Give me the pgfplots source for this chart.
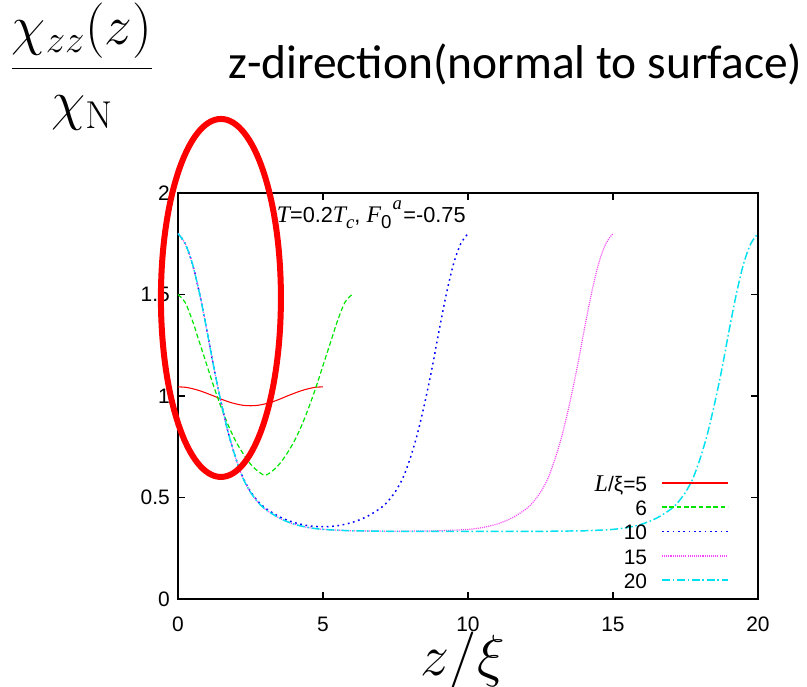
\RequirePackage{fix-cm}
\documentclass[border=0pt]{standalone}
\usepackage[no-math]{fontspec}
\usepackage{pgfplots}
\pgfplotsset{compat=1.18}
\setmainfont{Liberation Sans}
\newfontfamily\tms{Liberation Serif}
\newfontfamily\calibri{Carlito}
\newcommand{\lfont}{\fontsize{15.7}{18}\selectfont}
\definecolor{gpgreen}{RGB}{0,230,0}
\definecolor{gpblue}{RGB}{0,0,255}
\definecolor{gpmag}{RGB}{245,70,245}
\definecolor{gpcyan}{RGB}{0,225,240}
\newcommand{\itl}[1]{{\tms\itshape\fontsize{17.8}{20}\selectfont #1}}
\newcommand{\subl}[1]{\raisebox{-5pt}{\fontsize{14}{15}\selectfont #1}}
\newcommand{\supl}[1]{\raisebox{9.3pt}{\fontsize{14}{15}\selectfont #1}}
\begin{document}
\begin{tikzpicture}
\useasboundingbox (-133.5pt,-65.25pt) rectangle (471.75pt,449.25pt);
\begin{axis}[
  at={(0pt,0pt)}, anchor=south west,
  scale only axis, width=435pt, height=304.5pt,
  xmin=0, xmax=20, ymin=0, ymax=2,
  xtick={0,5,10,15,20}, ytick={0,0.5,1,1.5,2},
  tick align=inside, tick pos=both,
  major tick length=5pt,
  axis line style={line width=1.1pt},
  every tick/.style={line width=1.1pt, black},
  ticklabel style={font=\lfont},
  /pgf/number format/assume math mode=true,
  yticklabel style={inner sep=0pt, xshift=-6pt},
  xticklabel style={inner sep=0pt, yshift=-13pt, anchor=north},
  clip=false,
  legend plot pos=right,
  legend cell align=right,
  legend image code/.code={\draw[#1, line width=1.2pt] (0pt,2pt) -- (49.5pt,2pt);},
  legend style={draw=none, fill=none, at={(axis cs:19.0,0.605)}, anchor=north east,
    font=\lfont, inner sep=0pt, row sep=4.45pt,
    nodes={inner sep=0pt, text height=11.25pt, text depth=2.5pt},
    /tikz/every odd column/.append style={column sep=10.5pt}},
]
\addplot[red, line width=0.8pt, smooth] coordinates {
(0,1.045) (0.25,1.043) (0.5,1.036) (0.75,1.026) (1.0,1.013) (1.25,0.999) (1.5,0.984) (1.75,0.971) (2.0,0.961) (2.25,0.954) (2.5,0.952)
(2.75,0.954) (3.0,0.961) (3.25,0.971) (3.5,0.984) (3.75,0.999) (4.0,1.013) (4.25,1.026) (4.5,1.036) (4.75,1.043) (5.0,1.045)};
\addlegendentry{{\tms\itshape\fontsize{18}{20}\selectfont L}/ξ=5}
\addplot[gpgreen, line width=0.9pt, dash pattern=on 3.5pt off 2pt, smooth] coordinates {
(0,1.50) (0.25,1.46) (0.5,1.37) (0.75,1.26) (1.0,1.15) (1.25,1.04) (1.5,0.94) (1.75,0.85) (2.0,0.775) (2.25,0.715) (2.5,0.665) (2.75,0.63) (3.0,0.61)
(3.25,0.63) (3.5,0.665) (3.75,0.715) (4.0,0.775) (4.25,0.85) (4.5,0.94) (4.75,1.04) (5.0,1.15) (5.25,1.26) (5.5,1.37) (5.75,1.46) (6.0,1.50)};
\addlegendentry{6}
\addplot[gpblue, line width=1.1pt, dash pattern=on 1.3pt off 2.7pt, smooth] coordinates {
(0,1.80) (0.25,1.75) (0.5,1.65) (0.75,1.50) (1.0,1.32) (1.25,1.13) (1.5,0.96) (1.75,0.81) (2.0,0.69) (2.25,0.595) (2.5,0.53) (2.75,0.483) (3.0,0.449)
(3.5,0.405) (4.0,0.377) (4.5,0.361) (5.0,0.356) (5.5,0.361) (6.0,0.377) (6.5,0.405)
(7.0,0.449) (7.25,0.483) (7.5,0.53) (7.75,0.595) (8.0,0.69) (8.25,0.81) (8.5,0.96) (8.75,1.13) (9.0,1.32) (9.25,1.50) (9.5,1.65) (9.75,1.75) (10,1.80)};
\addlegendentry{10}
\addplot[gpmag, line width=0.9pt, dash pattern=on 0.8pt off 0.8pt, smooth] coordinates {
(0,1.80) (0.25,1.75) (0.5,1.65) (0.75,1.50) (1.0,1.32) (1.25,1.13) (1.5,0.96) (1.75,0.81) (2.0,0.69) (2.25,0.592) (2.5,0.526) (2.75,0.478) (3.0,0.443)
(3.5,0.398) (4.0,0.369) (4.5,0.352) (5.0,0.343) (5.5,0.339) (6.0,0.336) (6.5,0.335) (7.5,0.334) (8.5,0.335) (9.0,0.336) (9.5,0.339) (10,0.343) (10.5,0.352) (11,0.369) (11.5,0.398)
(12,0.443) (12.25,0.478) (12.5,0.526) (12.75,0.592) (13,0.69) (13.25,0.81) (13.5,0.96) (13.75,1.13) (14,1.32) (14.25,1.50) (14.5,1.65) (14.75,1.75) (15,1.80)};
\addlegendentry{15}
\addplot[gpcyan, line width=1.1pt, dash pattern=on 6pt off 2pt on 1.2pt off 2pt, smooth] coordinates {
(0,1.80) (0.25,1.75) (0.5,1.65) (0.75,1.50) (1.0,1.32) (1.25,1.13) (1.5,0.96) (1.75,0.81) (2.0,0.69) (2.25,0.592) (2.5,0.526) (2.75,0.478) (3.0,0.443)
(3.5,0.398) (4.0,0.369) (4.5,0.352) (5.0,0.343) (5.5,0.339) (6.0,0.336) (6.5,0.335) (7,0.334) (8,0.333) (10,0.333) (12,0.333) (13,0.334) (13.5,0.335) (14,0.336) (14.5,0.339) (15,0.343) (15.5,0.352) (16,0.369) (16.5,0.398)
(17,0.443) (17.25,0.478) (17.5,0.526) (17.75,0.592) (18,0.69) (18.25,0.81) (18.5,0.96) (18.75,1.13) (19,1.32) (19.25,1.50) (19.5,1.65) (19.75,1.75) (20,1.80)};
\addlegendentry{20}
\node[anchor=base west, inner sep=0pt, font=\fontsize{16.3}{18}\selectfont] at (axis cs:3.40,1.857)
  {\itl{T}=0.2\itl{T}\subl{\tms\itshape c}, \itl{F}\subl{0}\kern1pt\supl{\tms\itshape a}\kern1pt=-0.75};
\draw[red, line width=4.5pt] (axis cs:1.48,1.483) ellipse [x radius=45pt, y radius=134.25pt];
\end{axis}
\node[anchor=base, inner sep=0pt] at (213.4pt,-57pt) {\fontsize{43.5}{50}\selectfont $z/\xi$};
\node[anchor=base west, inner sep=0pt] at (-126pt,387.85pt) {\fontsize{41.6}{50}\selectfont $\displaystyle\frac{\chi_{zz}(z)}{\chi_{\mathrm{N}}}$};
\node[anchor=base west, inner sep=0pt] at (37.5pt,390pt) {\calibri\fontsize{35.6}{40}\selectfont z-direction(normal to surface)};
\end{tikzpicture}
\end{document}
